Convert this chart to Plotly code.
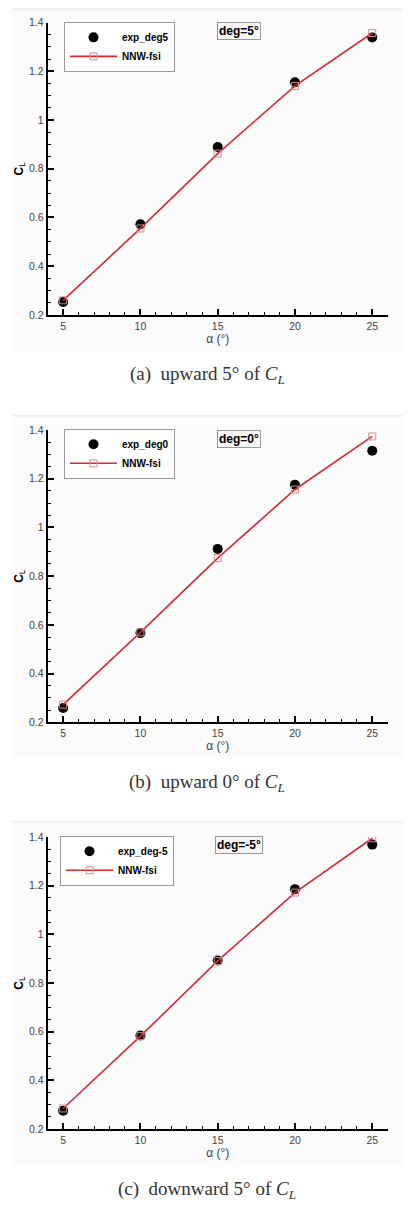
import plotly.graph_objects as go

# angle of attack (deg)
alpha = [5, 10, 15, 20, 25]

# upward 5 deg
exp_deg5 = [0.253, 0.572, 0.889, 1.155, 1.339]
nnw_deg5 = [0.260, 0.555, 0.862, 1.140, 1.357]

# upward 0 deg
exp_deg0 = [0.258, 0.566, 0.912, 1.175, 1.315]
nnw_deg0 = [0.272, 0.569, 0.874, 1.156, 1.374]

# downward 5 deg
exp_degm5 = [0.276, 0.585, 0.893, 1.186, 1.369]
nnw_degm5 = [0.285, 0.582, 0.891, 1.172, 1.395]

exp_names = ["exp_deg5", "exp_deg0", "exp_deg-5"]
deg_labels = ["deg=5°", "deg=0°", "deg=-5°"]
captions = ["(a)  upward 5° of <i>C</i><sub><i>L</i></sub>",
            "(b)  upward 0° of <i>C</i><sub><i>L</i></sub>",
            "(c)  downward 5° of <i>C</i><sub><i>L</i></sub>"]

W, H = 410, 1222
exp_sets = [exp_deg5, exp_deg0, exp_degm5]
nnw_sets = [nnw_deg5, nnw_deg0, nnw_degm5]

# pixel layout of each panel (top of axis, bottom of axis, caption centre)
panels = [
    dict(top=16.7, bot=312.0, cap=373, leg_x=64, leg_y=16, img_top=3, img_bot=350),
    dict(top=428.3, bot=723.3, cap=785, leg_x=64, leg_y=427, img_top=414, img_bot=760),
    dict(top=839.3, bot=1134.3, cap=1196, leg_x=60, leg_y=838, img_top=824, img_bot=1172),
]

def py(p):
    return 1 - p / H

fig = go.Figure()
layout = dict(
    width=W, height=H, autosize=False,
    margin=dict(l=0, r=0, t=0, b=0),
    paper_bgcolor="white", plot_bgcolor="rgba(0,0,0,0)",
    font=dict(family="Liberation Sans, Arial", color="#444"),
    annotations=[], shapes=[],
)

for i in range(3):
    n = "" if i == 0 else str(i + 1)
    p = panels[i]
    leg = "legend" + n
    fig.add_trace(go.Scatter(
        x=alpha, y=exp_sets[i], name=exp_names[i], mode="markers",
        marker=dict(color="black", size=10, symbol="circle"),
        xaxis="x" + n, yaxis="y" + n, legend=leg,
    ))
    fig.add_trace(go.Scatter(
        x=alpha, y=nnw_sets[i], name="NNW-fsi", mode="lines+markers",
        line=dict(color="#d42a36", width=1.6),
        marker=dict(symbol="square-open", size=7, color="#d88a8a", line=dict(width=1)),
        xaxis="x" + n, yaxis="y" + n, legend=leg,
    ))

    layout["xaxis" + n] = dict(
        domain=[47.7 / W, 387.7 / W], anchor="y" + n,
        range=[4, 26], dtick=5, showline=True, linecolor="black", linewidth=2,
        ticks="inside", ticklen=6, tickwidth=1.5, tickcolor="black",
        minor=dict(dtick=1, ticks="inside", ticklen=3, tickcolor="black", tickwidth=1),
        showgrid=False, zeroline=False,
        tickfont=dict(size=10.5, color="#444"),
        title=dict(text="α (°)", font=dict(size=12, color="#444"), standoff=0),
    )
    layout["yaxis" + n] = dict(
        domain=[py(p["bot"]), py(p["top"])], anchor="x" + n,
        range=[0.2, 1.4], dtick=0.2, showline=True, linecolor="black", linewidth=2,
        ticks="inside", ticklen=6, tickwidth=1.5, tickcolor="black",
        minor=dict(dtick=0.05, ticks="inside", ticklen=3, tickcolor="black", tickwidth=1),
        showgrid=False, zeroline=False,
        tickfont=dict(size=10.5, color="#444"),
        title=dict(text="<b>C</b><sub>L</sub>", font=dict(size=12, color="black"), standoff=3),
    )
    layout[leg] = dict(
        x=p["leg_x"] / W, y=py(p["leg_y"]), xanchor="left", yanchor="top",
        bgcolor="white", bordercolor="#999", borderwidth=1,
        font=dict(size=10, color="black", weight="bold"),
        itemwidth=47, tracegroupgap=0,
    )

    # faint background of the pasted figure
    layout["shapes"].append(dict(
        type="rect", xref="paper", yref="paper",
        x0=12 / W, x1=403 / W, y0=py(p["img_bot"]), y1=py(p["img_top"]),
        fillcolor="#fbfbfb", line=dict(width=0), layer="below",
    ))
    layout["shapes"].append(dict(
        type="line", xref="paper", yref="paper",
        x0=12 / W, x1=403 / W, y0=py(p["img_top"]), y1=py(p["img_top"]),
        line=dict(color="#e6e6e6", width=1), layer="below",
    ))

    layout["annotations"].append(dict(
        text="<b>" + deg_labels[i] + "</b>", xref="paper", yref="paper",
        x=239.5 / W, y=py(p["top"] + 8.5), showarrow=False,
        xanchor="center", yanchor="middle",
        font=dict(size=12, color="black"),
        bgcolor="#f5f5f5", bordercolor="#999", borderwidth=1, borderpad=1,
    ))
    layout["annotations"].append(dict(
        text=captions[i], xref="paper", yref="paper",
        x=207 / W, y=py(p["cap"]), showarrow=False,
        xanchor="center", yanchor="middle",
        font=dict(family="Liberation Serif, Times New Roman", size=19, color="#333"),
    ))

fig.update_layout(**layout)
fig.write_html("out.html", config={"displayModeBar": False},
               post_script="document.body.style.margin='0';")
